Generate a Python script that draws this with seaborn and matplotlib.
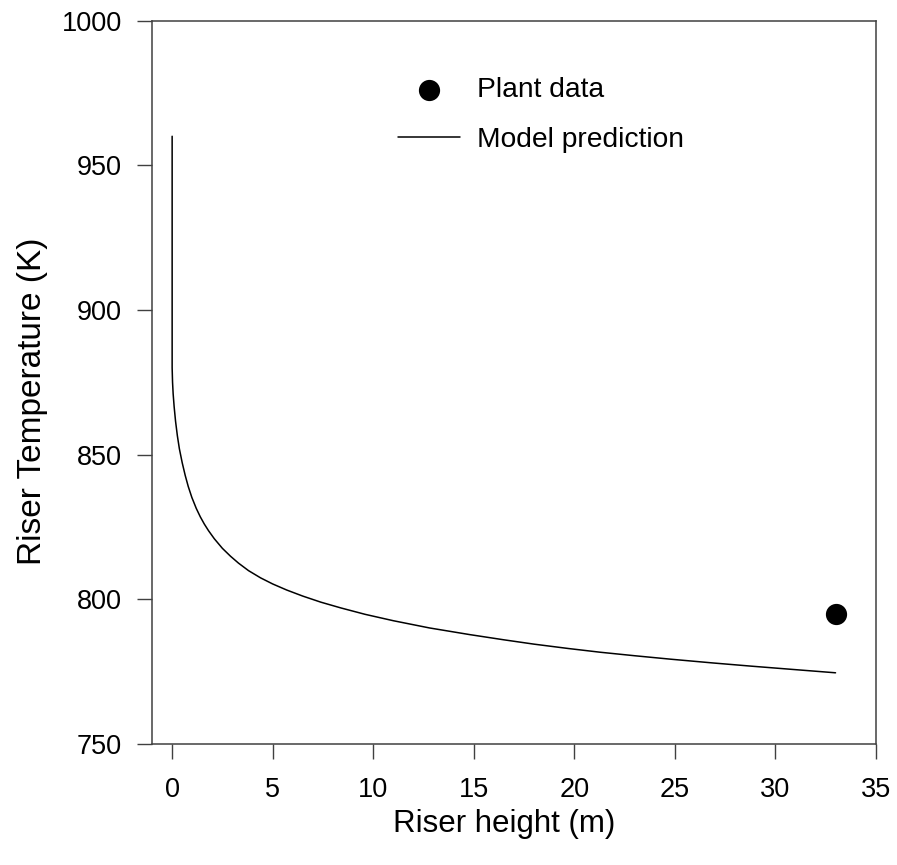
import matplotlib
matplotlib.use("Agg")
import matplotlib.pyplot as plt
import seaborn as sns

# Model prediction curve
riserHeight = [0, 0, 0.02, 0.05, 0.1, 0.17, 0.26, 0.36, 0.5, 0.65, 0.8, 0.98, 1.2,
               1.4, 1.6, 1.81, 2.1, 2.5, 2.9, 3.3, 3.8, 4.4, 5.0, 5.7, 6.5, 7.4,
               8.4, 9.6, 11, 12.8, 14.8, 16.5, 18, 19.7, 21.3, 23, 24.8, 26.9,
               28.8, 30.8, 33]
modelTemp = [960, 880, 875, 871, 866.5, 861.5, 856.5, 852, 847.2, 842.8, 839.0,
             835.2, 831.4, 828.5, 826.0, 823.7, 820.9, 817.6, 814.9, 812.5, 809.9,
             807.4, 805.3, 803.2, 801.1, 799.0, 797.0, 794.8, 792.6, 790.1, 787.8,
             786.0, 784.5, 783.0, 781.7, 780.5, 779.3, 778.0, 776.9, 775.8, 774.6]

# Plant measurement
plantHeight = [33]
plantTemp = [795]

xTicks = [0, 5, 10, 15, 20, 25, 30, 35]
yTicks = [750, 800, 850, 900, 950, 1000]


def makePlot() -> None:
    sns.set_style("ticks")
    plt.rcParams["font.family"] = ["Liberation Sans", "DejaVu Sans"]
    plt.rcParams["text.color"] = "black"
    plt.rcParams["axes.labelcolor"] = "black"
    plt.rcParams["xtick.color"] = "black"
    plt.rcParams["ytick.color"] = "black"

    fig = plt.figure(figsize=(8.97, 8.65), dpi=100)
    ax = fig.add_axes([0.1695, 0.1399, 0.8068, 0.8364])

    sns.scatterplot(x=plantHeight, y=plantTemp, ax=ax, color="black", s=200,
                    edgecolor="black", label="Plant data", zorder=3)
    sns.lineplot(x=riserHeight, y=modelTemp, ax=ax, estimator=None, sort=False,
                 color="black", linewidth=1.1, label="Model prediction")

    ax.set_xlim(-1, 35)
    ax.set_ylim(750, 1000)
    ax.set_xticks(xTicks)
    ax.set_yticks(yTicks)

    for side in ["top", "right", "left", "bottom"]:
        ax.spines[side].set_visible(True)
        ax.spines[side].set_color("#404040")
        ax.spines[side].set_linewidth(1.1)
    ax.tick_params(direction="out", length=10.8, width=1.0, color="#404040",
                   labelsize=19.5, labelcolor="black")
    ax.tick_params(axis="x", pad=13)
    ax.tick_params(axis="y", pad=11)

    ax.set_xlabel("Riser height (m)", fontsize=22.5, labelpad=4.5)
    ax.set_ylabel("Riser Temperature (K)", fontsize=24, labelpad=10)
    ax.xaxis.label.set_x(0.486)
    ax.yaxis.label.set_y(0.474)

    ax.legend(loc="upper left", bbox_to_anchor=(0.34, 0.922), frameon=False,
              fontsize=20.3, handlelength=2.2, handletextpad=0.6,
              borderpad=0, borderaxespad=0, labelspacing=0.85, markerscale=1.0)

    fig.savefig("out.png", dpi=100)
    plt.close(fig)


if __name__ == "__main__":
    makePlot()
